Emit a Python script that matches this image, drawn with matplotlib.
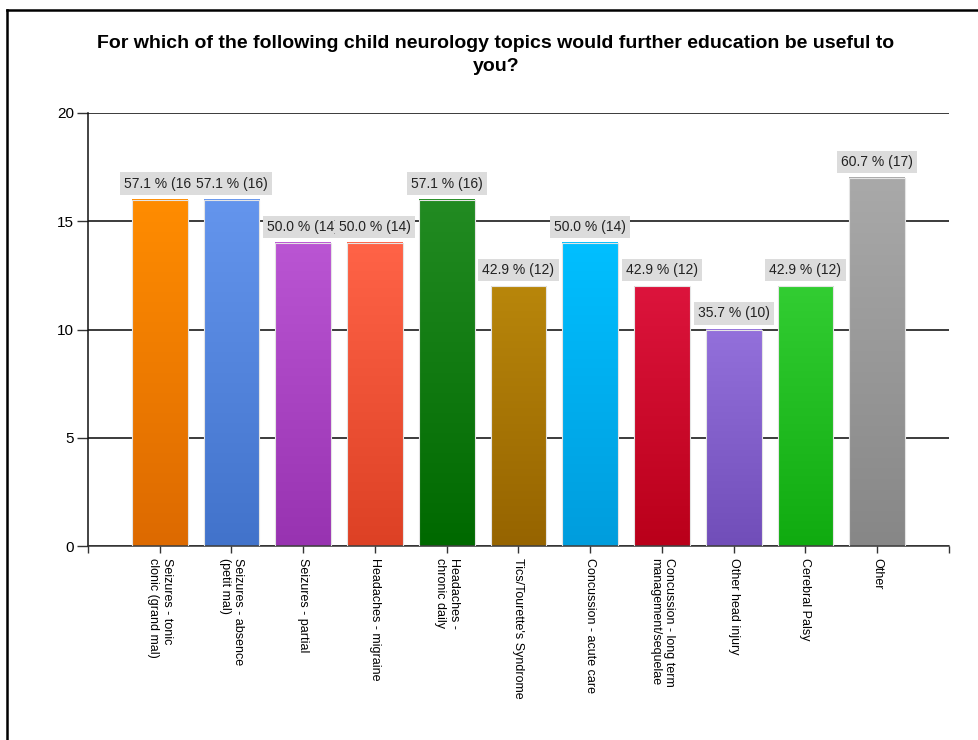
import matplotlib.pyplot as plt
import matplotlib.colors as mcolors
import numpy as np

plt.rcParams['font.family'] = ['Liberation Sans', 'DejaVu Sans']

topics = ['Seizures - tonic\nclonic (grand mal)', 'Seizures - absence\n(petit mal)',
          'Seizures - partial', 'Headaches - migraine', 'Headaches -\nchronic daily',
          "Tics/Tourette's Syndrome", 'Concussion - acute care',
          'Concussion - long term\nmanagement/sequelae', 'Other head injury',
          'Cerebral Palsy', 'Other']
counts = [16, 16, 14, 14, 16, 12, 14, 12, 10, 12, 17]
percents = [57.1, 57.1, 50.0, 50.0, 57.1, 42.9, 50.0, 42.9, 35.7, 42.9, 60.7]
top_colors = ['#FF8C00', '#6495ED', '#BA55D3', '#FF6347', '#228B22', '#B8860B',
              '#00BFFF', '#DC143C', '#9370DB', '#32CD32', '#A9A9A9']

W, H = 979, 740
fig = plt.figure(figsize=(W / 100, H / 100), dpi=100)
ax = fig.add_axes([88 / W, 194 / H, 861 / W, 433 / H])

x = np.arange(1, len(counts) + 1)
bars = ax.bar(x, counts, width=0.78, facecolor='none', edgecolor='#e4e4e4',
              linewidth=0.8, zorder=3)

# vertical gradient fill, lighter on top
for b, c in zip(bars, top_colors):
    rgb = np.array(mcolors.to_rgb(c))
    dark = np.clip(rgb - 34 / 255, 0, 1)
    t = np.linspace(0, 1, 64)[:, None]
    grad = dark + (rgb - dark) * t
    img = np.repeat(grad[:, None, :], 2, axis=1)
    ax.imshow(img, extent=[b.get_x(), b.get_x() + b.get_width(), 0, b.get_height()],
              origin='lower', aspect='auto', zorder=2, interpolation='bilinear')

for xi, v, p in zip(x, counts, percents):
    ax.annotate(f'{p:.1f} % ({v})', (xi, v), xytext=(0, 16), textcoords='offset pixels',
                ha='center', va='center', fontsize=10, color='#222222', zorder=5,
                bbox=dict(boxstyle='square,pad=0.3', facecolor='#dcdcdc', edgecolor='none'))

ax.set_xlim(0, 12)
ax.set_ylim(0, 20)
ax.set_yticks([0, 5, 10, 15, 20])
ax.set_xticks(np.arange(0, 13))
ax.set_xticklabels([''] + topics + [''], rotation=-90, ha='center', va='top',
                   multialignment='left', fontsize=9)
ax.tick_params(axis='y', length=8, width=1, labelsize=11, pad=2, color='#333333')
ax.tick_params(axis='x', length=5, width=1, pad=4, color='#333333')
ax.grid(axis='y', color='#1a1a1a', linewidth=1.2, zorder=1)
ax.set_axisbelow(True)
for s in ['top', 'right']:
    ax.spines[s].set_visible(False)
ax.spines['left'].set_color('#111111')
ax.spines['left'].set_linewidth(1.1)
ax.spines['bottom'].set_color('#333333')
ax.spines['bottom'].set_linewidth(1.1)

fig.text(496 / W, 1 - 35 / H,
         'For which of the following child neurology topics would further education be useful to\nyou?',
         ha='center', va='top', fontsize=14, fontweight='bold', linespacing=1.45)

# outer frame (left and top edges visible)
fig.add_artist(plt.Line2D([7 / W, 7 / W], [0, 1 - 10 / H], transform=fig.transFigure,
                          color='black', linewidth=1.8))
fig.add_artist(plt.Line2D([7 / W, 1], [1 - 10 / H, 1 - 10 / H], transform=fig.transFigure,
                          color='black', linewidth=1.8))

fig.savefig('out.png', dpi=100)
